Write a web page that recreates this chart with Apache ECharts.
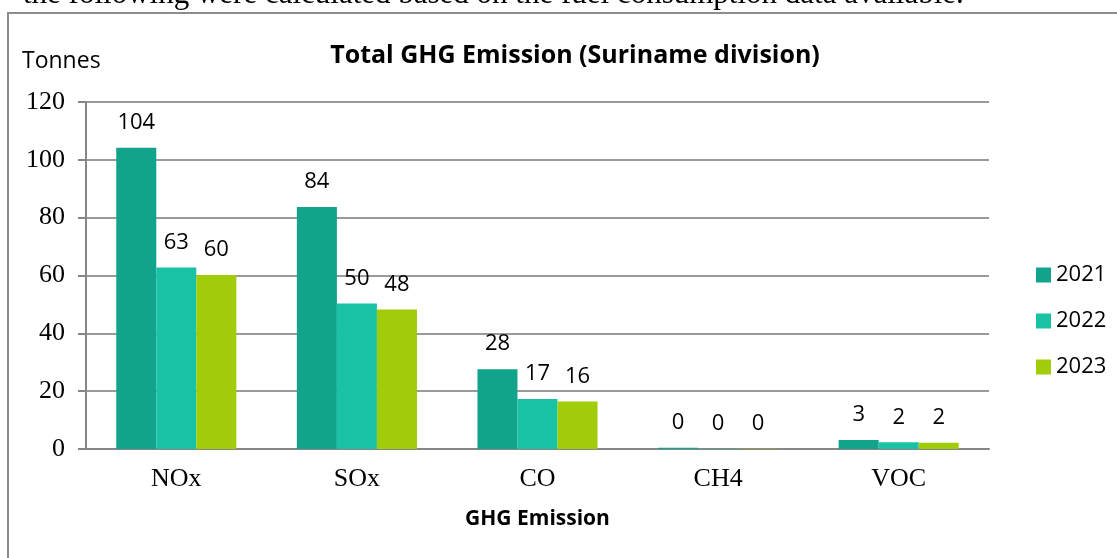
<!DOCTYPE html>
<html>
<head>
<meta charset="utf-8">
<script src="https://cdn.jsdelivr.net/npm/echarts@6/dist/echarts.min.js"></script>
<style>
  html, body { margin: 0; padding: 0; background: #fff; }
  #main { width: 1117px; height: 558px; }
</style>
</head>
<body>
<div id="main"></div>
<script>
// values (tonnes)
const categories = ['NOx', 'SOx', 'CO', 'CH4', 'VOC']
const years = ['2021', '2022', '2023']
const s2021 = [104.2, 83.7, 27.6, 0.4, 3.1]
const s2022 = [62.8, 50.3, 17.3, 0.1, 2.3]
const s2023 = [60.2, 48.2, 16.4, 0.1, 2.2]
const yTicks = [0, 20, 40, 60, 80, 100, 120]

const colors = ['#12A38C', '#19C2A4', '#A0CC0A']
const serif = '"Liberation Serif", "Times New Roman", serif'
const sans = '"Open Sans", "Noto Sans", sans-serif'

function barSeries (name, data, color) {
  return {
    name: name,
    type: 'bar',
    data: data,
    barGap: '0%',
    barCategoryGap: '33.5%',
    itemStyle: { color: color },
    label: {
      show: true,
      position: 'top',
      distance: 14,
      color: '#000',
      fontFamily: sans,
      fontSize: 22,
      formatter: p => Math.round(p.value)
    }
  }
}

var chart = echarts.init(document.getElementById('main'))
var option = {
  animation: false,
  backgroundColor: '#fff',
  title: {
    text: 'Total GHG Emission (Suriname division)',
    left: 570,
    top: 38,
    textAlign: 'center',
    textStyle: { fontFamily: sans, fontSize: 25, fontWeight: 'bold', color: '#000' }
  },
  legend: {
    orient: 'vertical',
    left: 1031,
    top: 259,
    itemWidth: 15,
    itemHeight: 15,
    itemGap: 24,
    icon: 'rect',
    data: years,
    textStyle: { fontFamily: sans, fontSize: 22, color: '#000' }
  },
  grid: {
    left: 86,
    right: 1117 - 989,
    top: 102,
    bottom: 558 - 449,
    containLabel: false,
    outerBoundsMode: 'none'
  },
  xAxis: {
    type: 'category',
    data: categories,
    name: 'GHG Emission',
    nameLocation: 'middle',
    nameGap: 60,
    nameTextStyle: { fontFamily: sans, fontSize: 21, fontWeight: 'bold', color: '#000' },
    axisLine: { lineStyle: { color: '#868686', width: 2 } },
    axisTick: { show: false },
    axisLabel: { fontFamily: serif, fontSize: 26, color: '#000', margin: 17 }
  },
  yAxis: {
    type: 'value',
    min: yTicks[0],
    max: yTicks[yTicks.length - 1],
    interval: 20,
    axisLine: { show: true, lineStyle: { color: '#868686', width: 2 } },
    axisTick: { show: true, length: 8, lineStyle: { color: '#868686', width: 2 } },
    axisLabel: { fontFamily: serif, fontSize: 26, color: '#000', margin: 21 },
    splitLine: { lineStyle: { color: '#9a9a9a', width: 2 } }
  },
  graphic: [
    {
      type: 'text',
      left: 23,
      top: -21,
      style: {
        text: 'the following were calculated based on the fuel consumption data available.',
        font: '31px ' + serif,
        fill: '#000'
      }
    },
    {
      type: 'text',
      left: 22,
      top: 50,
      style: { text: 'Tonnes', font: '23px ' + sans, fill: '#000' }
    },
    {
      type: 'polyline',
      shape: { points: [[8, 600], [8, 13], [1130, 13]] },
      style: { stroke: '#8c8c8c', lineWidth: 2, fill: null }
    }
  ],
  series: [
    barSeries(years[0], s2021, colors[0]),
    barSeries(years[1], s2022, colors[1]),
    barSeries(years[2], s2023, colors[2])
  ]
}
chart.setOption(option)
</script>
</body>
</html>
